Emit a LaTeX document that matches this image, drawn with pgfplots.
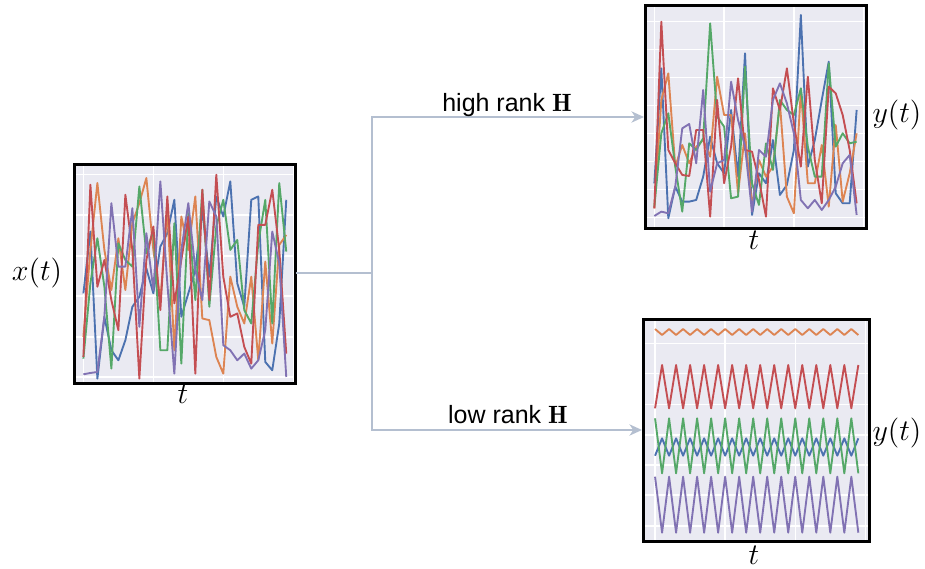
\documentclass[border=0pt]{standalone}
\usepackage{pgfplots}
\pgfplotsset{compat=1.18}
\usepackage{pgfplotstable}
\usepackage{fontspec}
\newfontfamily\hv{Liberation Sans}
\usetikzlibrary{arrows.meta}
\definecolor{bgc}{HTML}{EAEAF2}
\definecolor{sbblue}{HTML}{4C72B0}
\definecolor{sborange}{HTML}{DD8452}
\definecolor{sbgreen}{HTML}{55A868}
\definecolor{sbred}{HTML}{C44E52}
\definecolor{sbpurple}{HTML}{8172B3}
\definecolor{arrowc}{HTML}{B4BFD0}

\pgfplotstableread{
t b o g r p
0 -430 -560 -625 -620 -672
1 -245 -300 -400 -105 -668
2 -685 -100 -265 -410 -665
3 -500 -300 -410 -330 -500
4 -600 -420 -655 -450 -160
5 -630 -265 -280 -540 -350
6 -570 -420 -330 -135 -350
7 -470 -220 -350 -300 -175
8 -440 -160 -110 -685 -530
9 -355 -85 -310 -330 -250
10 -430 -300 -240 -230 -420
11 -290 -450 -600 -480 -95
12 -250 -180 -600 -140 -400
13 -150 -600 -220 -460 -670
14 -500 -200 -640 -330 -300
15 -430 -300 -190 -200 -160
16 -360 -140 -450 -670 -360
17 -180 -505 -120 -120 -450
18 -380 -510 -470 -450 -155
19 -140 -620 -230 -75 -200
20 -200 -670 -150 -380 -585
21 -95 -380 -300 -500 -600
22 -400 -470 -270 -490 -630
23 -470 -520 -480 -590 -610
24 -150 -380 -520 -640 -655
25 -140 -630 -280 -225 -630
26 -635 -335 -150 -225 -540
27 -660 -580 -520 -120 -245
28 -520 -285 -100 -300 -340
29 -150 -255 -305 -610 -680
}\leftdata

\pgfplotstableread{
t b o g r p
0 -550 -625 -620 -625 -648
1 -205 -300 -400 -65 -635
2 -655 -220 -340 -450 -640
3 -560 -500 -500 -490 -560
4 -605 -435 -635 -525 -385
5 -605 -490 -430 -528 -372
6 -600 -440 -450 -390 -490
7 -530 -420 -415 -390 -270
8 -410 -470 -70 -650 -575
9 -490 -230 -350 -300 -490
10 -520 -345 -380 -550 -480
11 -330 -345 -595 -440 -245
12 -530 -580 -590 -235 -360
13 -160 -400 -200 -450 -440
14 -645 -620 -550 -455 -635
15 -520 -480 -615 -540 -450
16 -550 -530 -430 -650 -470
17 -420 -500 -510 -265 -300
18 -585 -310 -300 -330 -250
19 -555 -590 -330 -205 -310
20 -450 -640 -345 -370 -400
21 -45 -270 -265 -500 -600
22 -500 -550 -440 -230 -625
23 -420 -550 -530 -480 -600
24 -300 -435 -530 -610 -630
25 -185 -620 -190 -260 -600
26 -580 -375 -440 -280 -560
27 -610 -605 -400 -345 -490
28 -610 -520 -430 -450 -465
29 -330 -400 -425 -610 -645
}\topdata

\pgfplotstableread{
t b o g r p
0 -437 -57 -325 -295 -500
1 -385 -75 -490 -165 -668
2 -437 -57 -325 -295 -500
3 -385 -75 -490 -165 -668
4 -437 -57 -325 -295 -500
5 -385 -75 -490 -165 -668
6 -437 -57 -325 -295 -500
7 -385 -75 -490 -165 -668
8 -437 -57 -325 -295 -500
9 -385 -75 -490 -165 -668
10 -437 -57 -325 -295 -500
11 -385 -75 -490 -165 -668
12 -437 -57 -325 -295 -500
13 -385 -75 -490 -165 -668
14 -437 -57 -325 -295 -500
15 -385 -75 -490 -165 -668
16 -437 -57 -325 -295 -500
17 -385 -75 -490 -165 -668
18 -437 -57 -325 -295 -500
19 -385 -75 -490 -165 -668
20 -437 -57 -325 -295 -500
21 -385 -75 -490 -165 -668
22 -437 -57 -325 -295 -500
23 -385 -75 -490 -165 -668
24 -437 -57 -325 -295 -500
25 -385 -75 -490 -165 -668
26 -437 -57 -325 -295 -500
27 -385 -75 -490 -165 -668
28 -437 -57 -325 -295 -500
29 -385 -75 -490 -165 -668
}\botdata

\pgfplotsset{
  panel/.style={
    scale only axis, anchor=north west,
    axis background/.style={fill=bgc},
    axis line style={black, line width=1.2pt},
    xmajorgrids, ymajorgrids,
    major grid style={white, line width=0.6pt},
    xticklabels={}, yticklabels={},
    major tick length=0pt, tick style={draw=none},
    xtick={0,10,20,30},
    every axis plot/.append style={line width=0.75pt, no markers, line join=round},
  }
}

\begin{document}
\begin{tikzpicture}
\useasboundingbox (0pt,0pt) rectangle (370pt,-227.6pt);

% left panel x(t)
\begin{axis}[panel, at={(30pt,-65.6pt)}, width=88pt, height=87.6pt,
  xmin=-1.2, xmax=30.25, ymin=-698, ymax=-43,
  ytick={-680,-560,-438,-318,-195,-75}]
\addplot[sbblue] table[x=t,y=b] {\leftdata};
\addplot[sborange] table[x=t,y=o] {\leftdata};
\addplot[sbgreen] table[x=t,y=g] {\leftdata};
\addplot[sbred] table[x=t,y=r] {\leftdata};
\addplot[sbpurple] table[x=t,y=p] {\leftdata};
\end{axis}

% top right panel
\begin{axis}[panel, at={(258.28pt,-2.28pt)}, width=88.12pt, height=89.04pt,
  xmin=-1.24, xmax=30.34, ymin=-685, ymax=-17,
  ytick={-652,-568,-484,-400,-316,-232,-148,-65}]
\addplot[sbblue] table[x=t,y=b] {\topdata};
\addplot[sborange] table[x=t,y=o] {\topdata};
\addplot[sbgreen] table[x=t,y=g] {\topdata};
\addplot[sbred] table[x=t,y=r] {\topdata};
\addplot[sbpurple] table[x=t,y=p] {\topdata};
\end{axis}

% bottom right panel
\begin{axis}[panel, at={(257.48pt,-127.6pt)}, width=90.12pt, height=89.08pt,
  xmin=-1.62, xmax=30.52, ymin=-695, ymax=-27,
  ytick={-648,-555,-465,-375,-283,-190,-100}]
\addplot[sbblue] table[x=t,y=b] {\botdata};
\addplot[sborange] table[x=t,y=o] {\botdata};
\addplot[sbgreen] table[x=t,y=g] {\botdata};
\addplot[sbred] table[x=t,y=r] {\botdata};
\addplot[sbpurple] table[x=t,y=p] {\botdata};
\end{axis}

\begin{scope}[x=0.4pt, y=-0.4pt]
\draw[arrowc, line width=0.8pt] (296,273) -- (372,273);
\draw[arrowc, line width=0.8pt, {Stealth[length=5pt,width=4.5pt,inset=1.5pt]}-{Stealth[length=5pt,width=4.5pt,inset=1.5pt]}]
  (644,117) -- (372,117) -- (372,430) -- (642,430);
\node[anchor=base, inner sep=0pt, font=\fontsize{10}{12}\selectfont] at (507,111.3) {\hv high rank $\mathbf{H}$};
\node[anchor=base, inner sep=0pt, font=\fontsize{10}{12}\selectfont] at (508,423.3) {\hv low rank $\mathbf{H}$};
\node[anchor=base, inner sep=0pt, font=\fontsize{12}{14}\selectfont] at (37,281) {$x(t)$};
\node[anchor=base, inner sep=0pt, font=\fontsize{12}{14}\selectfont] at (183,404) {$t$};
\node[anchor=base, inner sep=0pt, font=\fontsize{12}{14}\selectfont] at (897,123) {$y(t)$};
\node[anchor=base, inner sep=0pt, font=\fontsize{12}{14}\selectfont] at (754,250) {$t$};
\node[anchor=base, inner sep=0pt, font=\fontsize{12}{14}\selectfont] at (897,441) {$y(t)$};
\node[anchor=base, inner sep=0pt, font=\fontsize{12}{14}\selectfont] at (754,565) {$t$};
\end{scope}
\end{tikzpicture}
\end{document}
